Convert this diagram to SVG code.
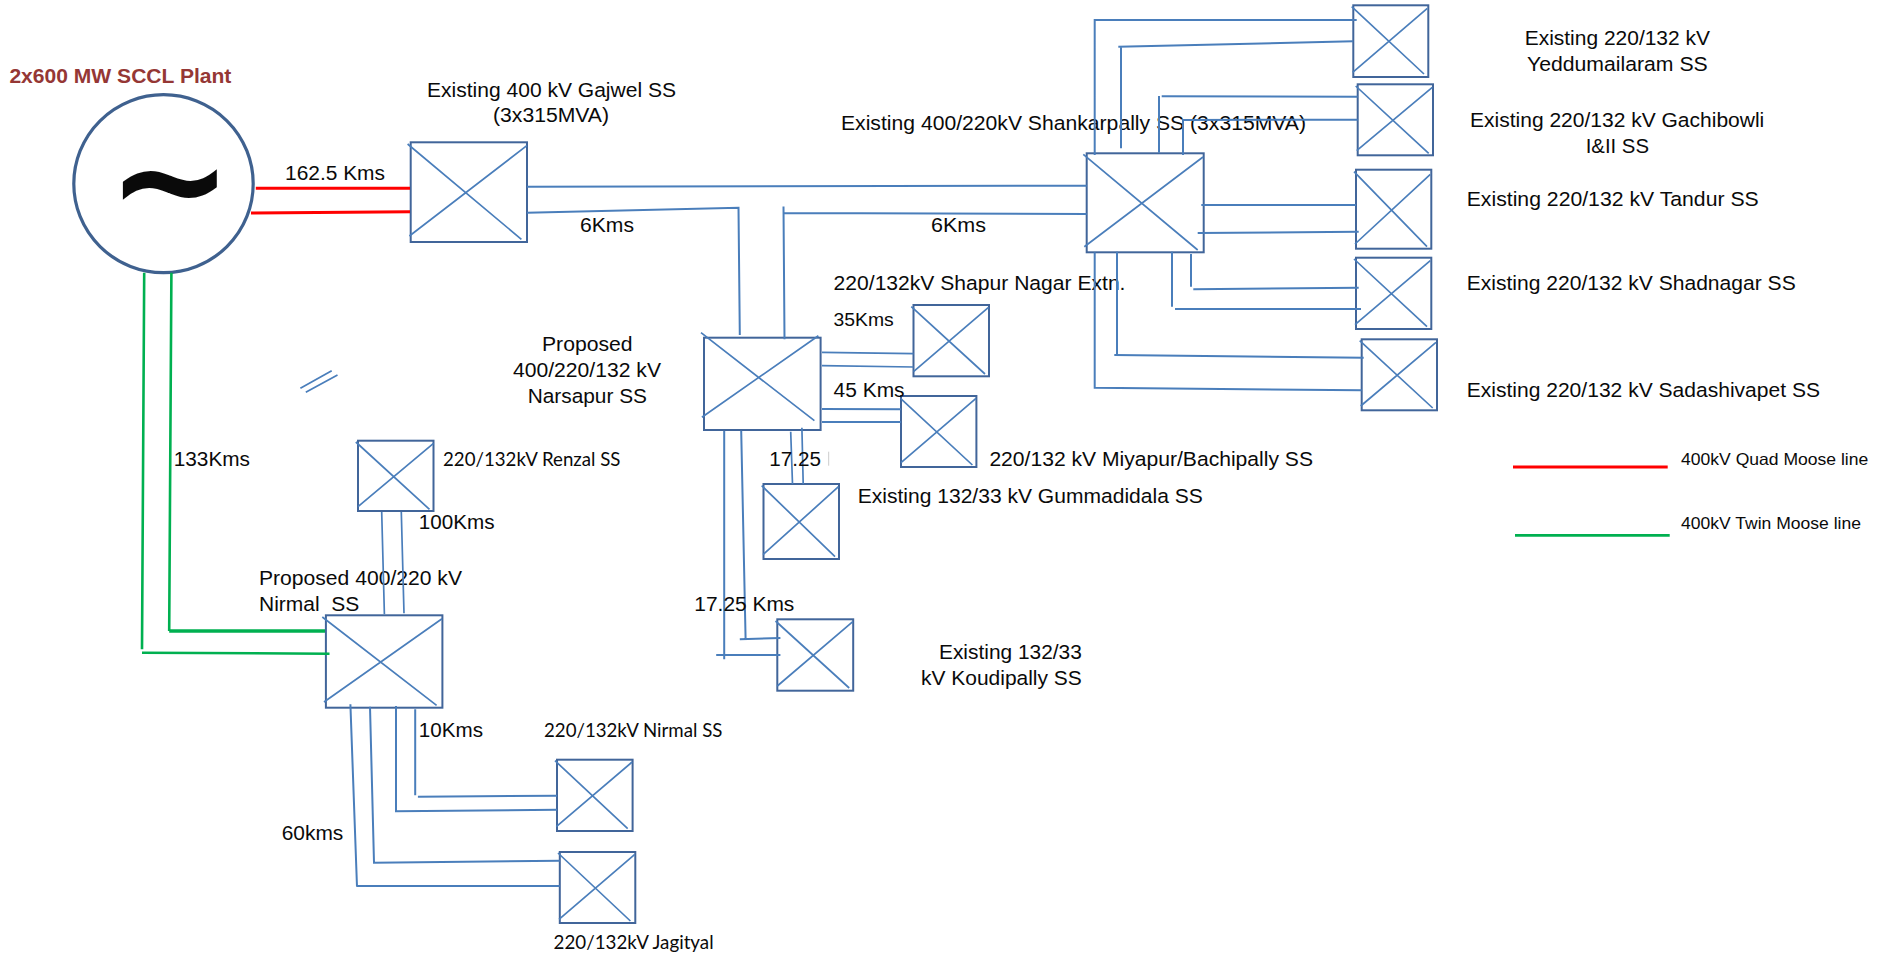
<svg xmlns="http://www.w3.org/2000/svg" width="1895" height="956" viewBox="0 0 1895 956">
<style>
text{font-family:"Liberation Sans",Arial,sans-serif;font-size:20.5px;fill:#0a0a0a}
.c{font-family:Lato,"Open Sans",sans-serif;font-size:19px}
.l{font-size:16.5px}
.b{fill:#fff;stroke:#41659a;stroke-width:2}
.d{stroke:#4a7ebb;stroke-width:1.7;fill:none}
.w{stroke:#4a7ebb;stroke-width:2;fill:none}
.r{stroke:#f00;stroke-width:3;fill:none}
.g{stroke:#00b050;stroke-width:2.6;fill:none}
</style>
<rect width="1895" height="956" fill="#fff"/>
<g id="plant">
<ellipse cx="163.500" cy="183.700" rx="89.700" ry="89" fill="none" stroke="#3f618f" stroke-width="3.200"/>
<text x="107" y="231.300" style="font-family:'DejaVu Sans',sans-serif;font-size:150px;font-weight:bold">~</text>
<text x="9.400" y="82.700" textLength="222" lengthAdjust="spacingAndGlyphs" style="font-weight:bold;fill:#953735">2x600 MW SCCL Plant</text>
</g>
<g id="gajwel">
<rect class="b" x="410.700" y="142.300" width="116.300" height="99.700"/>
<path class="d" d="M407.600 144L521.400 239.300M409.400 236L526.800 145.700"/>
<text x="427" y="97" textLength="249" lengthAdjust="spacingAndGlyphs">Existing 400 kV Gajwel SS</text>
<text x="493" y="122" textLength="116" lengthAdjust="spacingAndGlyphs">(3x315MVA)</text>
</g>
<g id="shankarpally">
<rect class="b" x="1086.700" y="153.300" width="117" height="99"/>
<path class="d" d="M1083.300 154.300L1197.700 250M1084.300 246.700L1203 157"/>
<text x="841" y="130" textLength="465" lengthAdjust="spacingAndGlyphs">Existing 400/220kV Shankarpally SS (3x315MVA)</text>
</g>
<g id="narsapur">
<rect class="b" x="704" y="337.700" width="116.600" height="92.300"/>
<path class="d" d="M701 332.700L814.400 420.700M701.900 417.300L818.400 335.700"/>
<text x="542" y="350.700" textLength="90.600" lengthAdjust="spacingAndGlyphs">Proposed</text>
<text x="513" y="376.700" textLength="148" lengthAdjust="spacingAndGlyphs">400/220/132 kV</text>
<text x="527.700" y="402.700" textLength="119.300" lengthAdjust="spacingAndGlyphs">Narsapur SS</text>
</g>
<g id="renzal">
<rect class="b" x="358" y="440.700" width="75.500" height="70.300"/>
<path class="d" d="M355.800 442L429.500 509.300M358 506.700L433.500 443.300"/>
<text class="c" x="443" y="466" textLength="177.500" lengthAdjust="spacingAndGlyphs">220/132kV Renzal SS</text>
</g>
<g id="nirmal400">
<rect class="b" x="325.900" y="615.300" width="116.500" height="92.400"/>
<path class="d" d="M322.300 617L436.600 705.300M324 702L442 618.700"/>
<text x="259" y="585" textLength="203" lengthAdjust="spacingAndGlyphs">Proposed 400/220 kV</text>
<text x="259" y="610.700" textLength="100.400" lengthAdjust="spacingAndGlyphs" xml:space="preserve">Nirmal  SS</text>
</g>
<g id="nirmal220">
<rect class="b" x="557" y="759.700" width="75.600" height="71.300"/>
<path class="d" d="M555 760.700L627.700 828.700M556.300 826.700L632.100 762"/>
<text class="c" x="544" y="737" textLength="178.400" lengthAdjust="spacingAndGlyphs">220/132kV Nirmal SS</text>
</g>
<g id="jagityal">
<rect class="b" x="559.800" y="852" width="75.500" height="71"/>
<path class="d" d="M558 853L630.400 921M559 919.300L634.800 854.300"/>
<text class="c" x="553.600" y="949.300" textLength="160" lengthAdjust="spacingAndGlyphs">220/132kV Jagityal</text>
</g>
<g id="shapur">
<rect class="b" x="913.500" y="305" width="75.500" height="71.300"/>
<path class="d" d="M911.300 306.700L985 374M913.500 371.700L988.500 307.300"/>
<text x="833.600" y="290" textLength="291.900" lengthAdjust="spacingAndGlyphs">220/132kV Shapur Nagar Extn.</text>
</g>
<g id="miyapur">
<rect class="b" x="901" y="396" width="75.400" height="71"/>
<path class="d" d="M900.500 398.300L972.400 465M901 462.700L976 398.300"/>
<text x="989.400" y="466" textLength="323.600" lengthAdjust="spacingAndGlyphs">220/132 kV Miyapur/Bachipally SS</text>
</g>
<g id="gummadidala">
<rect class="b" x="763.500" y="484" width="75.500" height="75"/>
<path class="d" d="M761.700 485.700L835 556.700M763 554.700L838.500 486.700"/>
<text x="857.700" y="502.700" textLength="345.100" lengthAdjust="spacingAndGlyphs">Existing 132/33 kV Gummadidala SS</text>
</g>
<g id="koudipally">
<rect class="b" x="777.300" y="619.300" width="75.900" height="71.400"/>
<path class="d" d="M775.500 621L849.200 688M777.300 686L852.800 621.700"/>
<text x="939" y="659" textLength="142.800" lengthAdjust="spacingAndGlyphs">Existing 132/33</text>
<text x="921" y="684.700" textLength="160.800" lengthAdjust="spacingAndGlyphs">kV Koudipally SS</text>
</g>
<g id="yeddumailaram">
<rect class="b" x="1353.300" y="5.300" width="75" height="71.700"/>
<path class="d" d="M1351.700 6.700L1424 74M1352.700 72.300L1427.300 8.300"/>
<text x="1524.700" y="44.600" textLength="185.300" lengthAdjust="spacingAndGlyphs">Existing 220/132 kV</text>
<text x="1527" y="71" textLength="180.700" lengthAdjust="spacingAndGlyphs">Yeddumailaram SS</text>
</g>
<g id="gachibowli">
<rect class="b" x="1357.700" y="84.300" width="75.300" height="71"/>
<path class="d" d="M1355.700 86L1428.700 153.300M1356.700 150.700L1432.300 87.300"/>
<text x="1470" y="126.800" textLength="294.300" lengthAdjust="spacingAndGlyphs">Existing 220/132 kV Gachibowli</text>
<text x="1585.700" y="152.500" textLength="63.300" lengthAdjust="spacingAndGlyphs">I&amp;II SS</text>
</g>
<g id="tandur">
<rect class="b" x="1356" y="169.700" width="75.300" height="79"/>
<path class="d" d="M1354 171.700L1427 246.700M1355 244L1430.300 174.300"/>
<text x="1466.700" y="206" textLength="292" lengthAdjust="spacingAndGlyphs">Existing 220/132 kV Tandur SS</text>
</g>
<g id="shadnagar">
<rect class="b" x="1356" y="257.700" width="75.300" height="71.300"/>
<path class="d" d="M1354 259L1427 326.700M1355 324.700L1430.300 260.700"/>
<text x="1466.700" y="290" textLength="329" lengthAdjust="spacingAndGlyphs">Existing 220/132 kV Shadnagar SS</text>
</g>
<g id="sadashivapet">
<rect class="b" x="1361.700" y="339.300" width="75.300" height="71"/>
<path class="d" d="M1359.700 340.700L1432.700 408M1360.700 406L1436 342.300"/>
<text x="1466.700" y="397" textLength="353.300" lengthAdjust="spacingAndGlyphs">Existing 220/132 kV Sadashivapet SS</text>
</g>
<g id="connectors">
<path class="r" d="M255.800 188.300H410M251 213L410 211.700"/>
<path class="g" d="M144.200 272.700L142 649.300M142 652.700L329.500 653.700M171.400 272.700L169.200 631"/>
<path class="g" style="stroke-width:3.400" d="M169.200 631H325"/>
<path class="w" d="M527 186.700L1086.700 185.700M527 212.700L738.500 207.800L739.800 335M783 213L1086.700 214M783.500 206.600L784.500 339.300"/>
<path class="d" d="M381.700 512L384.400 614.300M401.300 512L404 613.300"/>
<path class="w" d="M350.400 704.300L357 886.700M357 886H559.800M370 706.700L374 862.700L559.800 860.700M396 706V811.300L557 809.700M415.200 709.300V795.300M417.900 796.700L557 795.700"/>
<path class="d" d="M822 352.300L913.500 353.700M822 365.700L913.500 367"/>
<path class="w" d="M822 409L901 409.300M822 422H901"/>
<path class="d" d="M790.700 431.700L792.500 484M801.900 427.700L803.200 484"/>
<path class="w" d="M724.200 430.700V659.300M716.200 655H780.400M741.200 430.700L745.600 639.300M739.800 639.300L780.400 638"/>
<path class="w" d="M1094.700 155V20H1356.700M1121 148.300V46.700M1118.300 46.700L1353.300 41.300M1159 152.700V96M1161.700 96.300L1357.700 96.700M1183 155V120L1357.700 119.700M1201.300 205H1356M1197.700 233L1358.700 231.700M1191 254V286.700M1193.300 289.300L1358.700 287.700M1172 251.700V306.700M1175 309H1361M1117 251.700V355M1114.300 355L1363.700 357.700M1094.700 252.300V387.700L1361.700 390.300"/>
<path class="d" d="M300.400 388.300L331.700 370.700M305.800 392.300L337.500 375"/>
<path stroke="#ccc" stroke-width="1" d="M828.700 451.700V465.700"/>
<path class="r" d="M1513 467H1667.700"/>
<path class="g" d="M1515 535.400H1669.700"/>
</g>
<g id="labels">
<text x="285" y="180" textLength="100" lengthAdjust="spacingAndGlyphs">162.5 Kms</text>
<text x="580" y="231.700" textLength="54" lengthAdjust="spacingAndGlyphs">6Kms</text>
<text x="931" y="231.700" textLength="55" lengthAdjust="spacingAndGlyphs">6Kms</text>
<text x="173.700" y="466" textLength="76.300" lengthAdjust="spacingAndGlyphs">133Kms</text>
<text x="418.800" y="528.700" textLength="75.800" lengthAdjust="spacingAndGlyphs">100Kms</text>
<text x="418.800" y="737" textLength="64.200" lengthAdjust="spacingAndGlyphs">10Kms</text>
<text x="281.700" y="840" textLength="61.600" lengthAdjust="spacingAndGlyphs">60kms</text>
<text x="833.600" y="325.700" style="font-size:18.500px" textLength="60.200" lengthAdjust="spacingAndGlyphs">35Kms</text>
<text x="833.600" y="396.700" textLength="71" lengthAdjust="spacingAndGlyphs">45 Kms</text>
<text x="769.300" y="466" textLength="51.700" lengthAdjust="spacingAndGlyphs">17.25</text>
<text x="694.300" y="610.700" textLength="100" lengthAdjust="spacingAndGlyphs">17.25 Kms</text>
</g>
<g id="legend">
<text class="l" x="1681" y="465" textLength="187.300" lengthAdjust="spacingAndGlyphs">400kV Quad Moose line</text>
<text class="l" x="1681" y="529" textLength="180" lengthAdjust="spacingAndGlyphs">400kV Twin Moose line</text>
</g>
</svg>
